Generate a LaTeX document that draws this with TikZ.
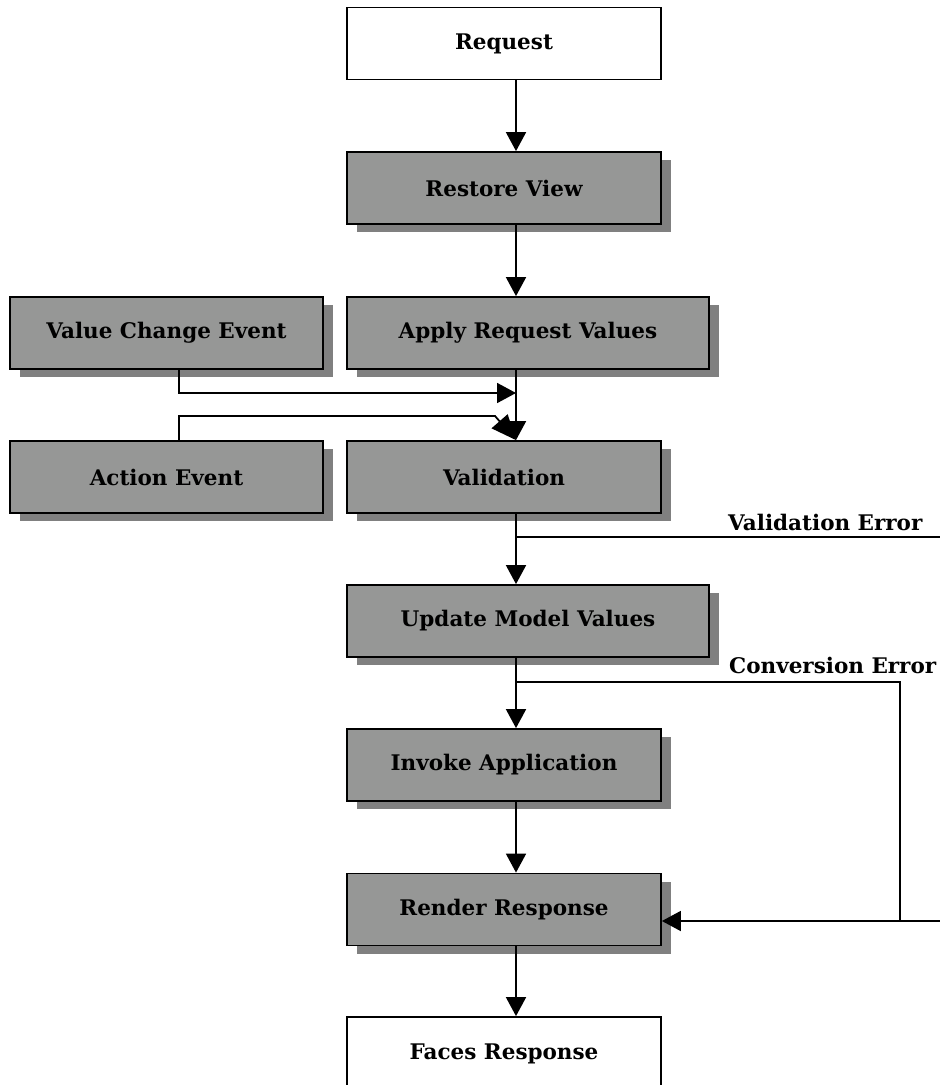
\documentclass[tikz,border=0pt]{standalone}
\usepackage{fontspec}
\setmainfont{DejaVu Serif}
\usetikzlibrary{arrows.meta,shadows}

\definecolor{phasefill}{RGB}{150,151,150}
\definecolor{phaseshadow}{RGB}{128,128,128}

\tikzset{
  labelfont/.style={font=\fontsize{21.5}{26}\selectfont\bfseries},
  box/.style={draw=black, line width=1.8pt, minimum height=72pt, inner sep=0pt,
    labelfont, text=black},
  phase/.style={box, fill=phasefill,
    drop shadow={shadow xshift=10pt, shadow yshift=-8pt, fill=phaseshadow, opacity=1, draw=none}},
  endpoint/.style={box, fill=white},
  wire/.style={line width=1.8pt},
  link/.style={wire, -{Triangle[length=19pt,width=20pt]}},
  slantlink/.style={wire, -{Triangle[length=25pt,width=21pt]}},
  errlabel/.style={labelfont, anchor=base west, inner sep=0pt}
}

\begin{document}
\begin{tikzpicture}[x=1pt, y=-1pt]
  \clip (0,0) rectangle (940,1085);
  \fill[white] (0,0) rectangle (940,1085);

  % lifecycle phases
  \node[endpoint, minimum width=314pt] (request) at (504,43.5) {Request};
  \node[phase, minimum width=314pt] (restore) at (504,188) {Restore View};
  \node[phase, minimum width=313pt] (vce) at (166.5,333) {Value Change Event};
  \node[phase, minimum width=362pt] (apply) at (528,333) {Apply Request Values};
  \node[phase, minimum width=313pt] (action) at (166.5,477) {Action Event};
  \node[phase, minimum width=314pt] (valid) at (504,477) {Validation};
  \node[phase, minimum width=362pt] (update) at (528,621) {Update Model Values};
  \node[phase, minimum width=314pt] (invoke) at (504,765) {Invoke Application};
  \node[phase, minimum width=314pt] (render) at (504,909.5) {Render Response};
  \node[endpoint, minimum width=314pt, minimum height=73pt] (faces) at (504,1053.5) {Faces Response};

  % routing points
  \coordinate (col) at (516,0);
  \coordinate (evx) at (179,0);
  \coordinate (vcejoin) at (516,393);
  \coordinate (actbend) at (495,416);
  \coordinate (verr) at (516,537);
  \coordinate (verrend) at (950,537);
  \coordinate (cerr) at (516,682);
  \coordinate (rin) at (900,921);
  \coordinate (rfar) at (950,921);

  % main flow
  \draw[link] (request.south -| col) -- (restore.north -| col);
  \draw[link] (restore.south -| col) -- (apply.north -| col);
  \draw[link] (apply.south -| col) -- (valid.north -| col);
  \draw[link] (valid.south -| col) -- (update.north -| col);
  \draw[link] (update.south -| col) -- (invoke.north -| col);
  \draw[link] (invoke.south -| col) -- (render.north -| col);
  \draw[link] (render.south -| col) -- (faces.north -| col);

  % events
  \draw[link] (vce.south -| evx) |- (vcejoin);
  \draw[slantlink] (action.north -| evx) |- (actbend) -- (valid.north -| col);

  % error paths
  \draw[wire] (verr) -- (verrend);
  \draw[wire] (cerr) -| (rin);
  \draw[link] (rfar) -- (render.east |- rfar);

  \node[errlabel] (verrlabel) at (728,530) {Validation Error};
  \node[errlabel] (cerrlabel) at (729,673) {Conversion Error};
\end{tikzpicture}
\end{document}
